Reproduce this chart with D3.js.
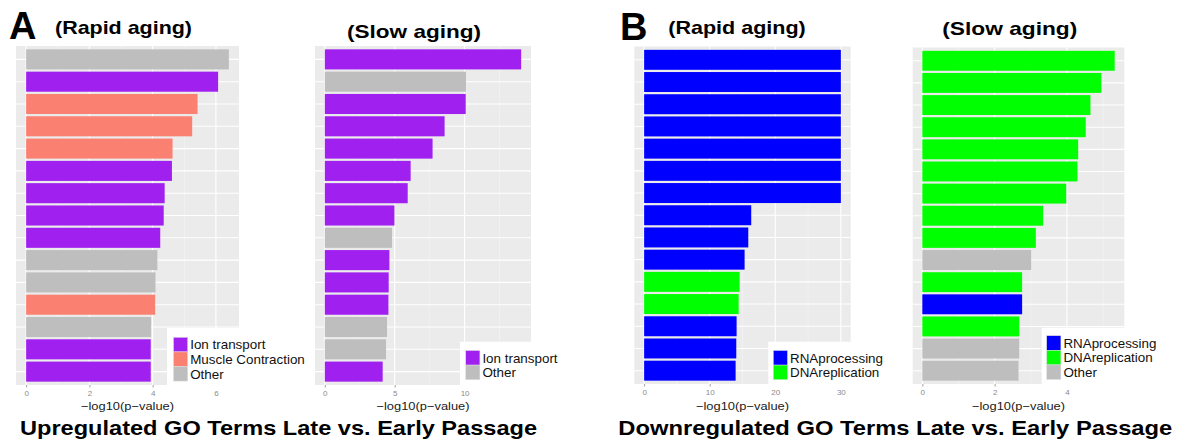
<!DOCTYPE html>
<html>
<head>
<meta charset="utf-8">
<script src="https://cdn.jsdelivr.net/npm/d3@7"></script>
<style>
  html, body { margin: 0; padding: 0; background: #fff; }
  svg { display: block; font-family: "Liberation Sans", Arial, Helvetica, sans-serif; }
</style>
</head>
<body>
<svg id="chart" width="1177" height="442"></svg>
<script>
// ---- Data: -log10(p-value) of GO terms, one bar per term, top to bottom ----
const upRapidValues = [6.41, 6.07, 5.42, 5.25, 4.63, 4.61, 4.38, 4.35, 4.24, 4.15, 4.09, 4.08, 3.95, 3.94, 3.94];
const upRapidGroups = ["Other", "Ion transport", "Muscle Contraction", "Muscle Contraction", "Muscle Contraction",
  "Ion transport", "Ion transport", "Ion transport", "Ion transport", "Other", "Other",
  "Muscle Contraction", "Other", "Ion transport", "Ion transport"];

const upSlowValues = [14.05, 10.1, 10.08, 8.57, 7.71, 6.14, 5.93, 4.98, 4.81, 4.62, 4.57, 4.55, 4.45, 4.38, 4.14];
const upSlowGroups = ["Ion transport", "Other", "Ion transport", "Ion transport", "Ion transport", "Ion transport",
  "Ion transport", "Ion transport", "Other", "Ion transport", "Ion transport", "Ion transport",
  "Other", "Other", "Ion transport"];

const downRapidValues = [30, 30, 30, 30, 30, 30, 30, 16.33, 15.88, 15.32, 14.56, 14.41, 14.1, 14.05, 13.95];
const downRapidGroups = ["RNAprocessing", "RNAprocessing", "RNAprocessing", "RNAprocessing", "RNAprocessing",
  "RNAprocessing", "RNAprocessing", "RNAprocessing", "RNAprocessing", "RNAprocessing",
  "DNAreplication", "DNAreplication", "RNAprocessing", "RNAprocessing", "RNAprocessing"];

const downSlowValues = [5.32, 4.95, 4.65, 4.52, 4.31, 4.29, 3.98, 3.34, 3.14, 3.01, 2.76, 2.76, 2.68, 2.68, 2.66];
const downSlowGroups = ["DNAreplication", "DNAreplication", "DNAreplication", "DNAreplication", "DNAreplication",
  "DNAreplication", "DNAreplication", "DNAreplication", "DNAreplication", "Other", "DNAreplication",
  "RNAprocessing", "DNAreplication", "Other", "Other"];

// Tick labels of each x axis
const upRapidTicks = [0, 2, 4, 6];
const upSlowTicks = [0, 5, 10];
const downRapidTicks = [0, 10, 20, 30];
const downSlowTicks = [0, 2, 4];

// Legend entries of each panel
const upRapidLegend = ["Ion transport", "Muscle Contraction", "Other"];
const upSlowLegend = ["Ion transport", "Other"];
const downRapidLegend = ["RNAprocessing", "DNAreplication"];
const downSlowLegend = ["RNAprocessing", "DNAreplication", "Other"];

const axisTitle = "\u2212log10(p\u2212value)";

// ---- Styles ----
const groupColor = {
  "Ion transport": "#A020F0",
  "Muscle Contraction": "#FA8072",
  "Other": "#BEBEBE",
  "RNAprocessing": "#0000FF",
  "DNAreplication": "#00FF00"
};

const panels = [
  { values: upRapidValues, groups: upRapidGroups, ticks: upRapidTicks, legend: upRapidLegend,
    box: { x0: 16, x1: 239, y0: 46, y1: 385 },
    legendBox: { x: 167, y: 328, w: 145, h: 60 }, keyX: 173.5, keyY: 337.3,
    title: "(Rapid aging)", titleX: 55, titleY: 34, titleLen: 137 },
  { values: upSlowValues, groups: upSlowGroups, ticks: upSlowTicks, legend: upSlowLegend,
    box: { x0: 315, x1: 531, y0: 46, y1: 385 },
    legendBox: { x: 460, y: 341.7, w: 105, h: 47 }, keyX: 465.7, keyY: 350.5,
    title: "(Slow aging)", titleX: 347, titleY: 38, titleLen: 134 },
  { values: downRapidValues, groups: downRapidGroups, ticks: downRapidTicks, legend: downRapidLegend,
    box: { x0: 634.3, x1: 850.7, y0: 46.5, y1: 384 },
    legendBox: { x: 768.3, y: 341.7, w: 125, h: 47 }, keyX: 773.3, keyY: 350.5,
    title: "(Rapid aging)", titleX: 668.3, titleY: 33.5, titleLen: 137.5 },
  { values: downSlowValues, groups: downSlowGroups, ticks: downSlowTicks, legend: downSlowLegend,
    box: { x0: 912.7, x1: 1124.3, y0: 47.5, y1: 384 },
    legendBox: { x: 1041.7, y: 327.7, w: 130, h: 60 }, keyX: 1046.7, keyY: 335.7,
    title: "(Slow aging)", titleX: 942.3, titleY: 35, titleLen: 135 }
];

const svg = d3.select("#chart");

panels.forEach(p => {
  const { x0, x1, y0, y1 } = p.box;
  const vmax = d3.max(p.values);
  const x = d3.scaleLinear().domain([-0.05 * vmax, 1.05 * vmax]).range([x0, x1]);
  const y = d3.scaleBand().domain(d3.range(p.values.length)).range([y0, y1])
    .paddingInner(0.1).paddingOuter(0.15);

  const g = svg.append("g");

  // panel background
  g.append("rect").attr("x", x0).attr("y", y0).attr("width", x1 - x0).attr("height", y1 - y0)
    .attr("fill", "#EBEBEB");

  // minor vertical grid (midpoints between major ticks)
  const step = p.ticks[1] - p.ticks[0];
  const minors = d3.range(step / 2, x.domain()[1], step);
  g.selectAll(".minor").data(minors).join("line")
    .attr("x1", d => x(d)).attr("x2", d => x(d)).attr("y1", y0).attr("y2", y1)
    .attr("stroke", "#F5F5F5").attr("stroke-width", 0.6);

  // major vertical grid
  g.selectAll(".vmajor").data(p.ticks).join("line")
    .attr("x1", d => x(d)).attr("x2", d => x(d)).attr("y1", y0).attr("y2", y1)
    .attr("stroke", "#FFFFFF").attr("stroke-width", 1.1);

  // horizontal grid at each category
  g.selectAll(".hmajor").data(y.domain()).join("line")
    .attr("x1", x0).attr("x2", x1)
    .attr("y1", d => y(d) + y.bandwidth() / 2).attr("y2", d => y(d) + y.bandwidth() / 2)
    .attr("stroke", "#FFFFFF").attr("stroke-width", 1.1);

  // bars
  g.selectAll(".bar").data(p.values).join("rect")
    .attr("x", x(0))
    .attr("y", (d, i) => y(i))
    .attr("width", d => x(d) - x(0))
    .attr("height", y.bandwidth())
    .attr("fill", (d, i) => groupColor[p.groups[i]]);

  // x axis
  const axis = d3.axisBottom(x).tickValues(p.ticks).tickFormat(d3.format("d"))
    .tickSize(2.5).tickPadding(2.5);
  const ax = g.append("g").attr("transform", `translate(0,${y1})`).call(axis);
  ax.select(".domain").remove();
  ax.selectAll(".tick line").attr("stroke", "#8a8a8a").attr("stroke-width", 0.8);
  ax.selectAll(".tick text").attr("fill", "#8a8a8a").attr("font-size", 8)
    .attr("font-family", "Liberation Sans, Arial, sans-serif");

  // axis title
  g.append("text").attr("x", (x0 + x1) / 2).attr("y", 409.5).attr("text-anchor", "middle")
    .attr("font-size", 11.5).attr("fill", "#1a1a1a")
    .attr("textLength", 93).attr("lengthAdjust", "spacingAndGlyphs")
    .text(axisTitle);

  // legend (white box drawn over the panel corner)
  const lb = p.legendBox;
  g.append("rect").attr("x", lb.x).attr("y", lb.y).attr("width", lb.w).attr("height", lb.h)
    .attr("fill", "#FFFFFF");
  const keyH = 14.6, keyW = 14.2;
  const items = g.selectAll(".leg").data(p.legend).join("g")
    .attr("transform", (d, i) => `translate(${p.keyX},${p.keyY + i * keyH})`);
  items.append("rect").attr("width", keyW).attr("height", keyH)
    .attr("fill", d => groupColor[d]).attr("stroke", "#E0E0E0").attr("stroke-width", 0.5);
  items.append("text").attr("x", keyW + 2.5).attr("y", keyH / 2 + 4.7)
    .attr("font-size", 13.4).attr("fill", "#111")
    .text(d => d);

  // panel title
  svg.append("text").attr("x", p.titleX).attr("y", p.titleY)
    .attr("font-size", 19).attr("font-weight", "bold").attr("fill", "#000")
    .attr("textLength", p.titleLen).attr("lengthAdjust", "spacingAndGlyphs")
    .text(p.title);
});

// figure letters
svg.append("text").attr("x", 9).attr("y", 39).attr("font-size", 38).attr("font-weight", "bold").text("A");
svg.append("text").attr("x", 620).attr("y", 39.5).attr("font-size", 38).attr("font-weight", "bold").text("B");

// bottom captions
svg.append("text").attr("x", 20).attr("y", 435).attr("font-size", 21).attr("font-weight", "bold")
  .attr("textLength", 517).attr("lengthAdjust", "spacingAndGlyphs")
  .text("Upregulated GO Terms Late vs. Early Passage");
svg.append("text").attr("x", 618.3).attr("y", 435).attr("font-size", 21).attr("font-weight", "bold")
  .attr("textLength", 554).attr("lengthAdjust", "spacingAndGlyphs")
  .text("Downregulated GO Terms Late vs. Early Passage");
</script>
</body>
</html>
